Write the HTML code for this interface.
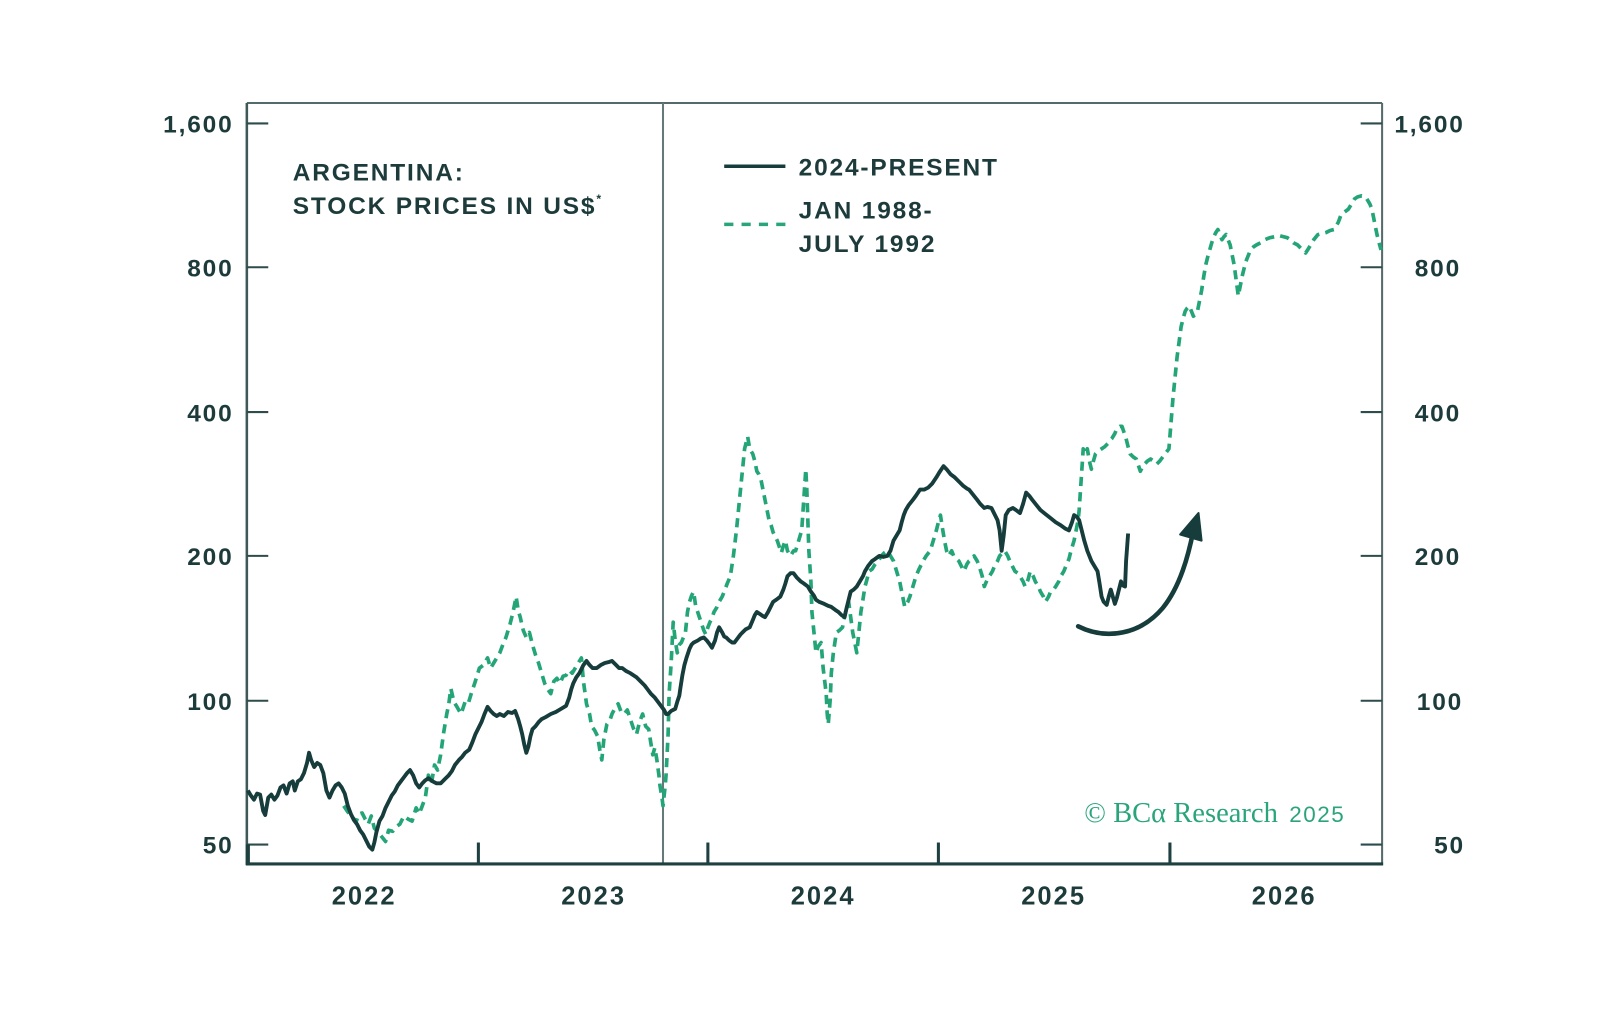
<!DOCTYPE html>
<html><head><meta charset="utf-8"><style>
html,body{margin:0;padding:0;background:#fff;}
svg{display:block;}
.tk{font-family:"Liberation Sans",sans-serif;font-weight:bold;font-size:24px;letter-spacing:1.8px;fill:#1d3b3b;}
.yr{font-family:"Liberation Sans",sans-serif;font-weight:bold;font-size:25px;letter-spacing:2px;fill:#1d3b3b;}
.ti{font-family:"Liberation Sans",sans-serif;font-weight:bold;font-size:24px;letter-spacing:1.8px;fill:#1d3b3b;}
.cp{font-family:"Liberation Serif",serif;font-size:28px;fill:#2aa57b;}
.cp2{font-family:"Liberation Sans",sans-serif;font-size:22px;letter-spacing:1.5px;fill:#2aa57b;}
</style></head><body>
<svg width="1600" height="1014" viewBox="0 0 1600 1014" xmlns="http://www.w3.org/2000/svg">
<rect width="1600" height="1014" fill="#fff"/>
<g transform="scale(1.02)">
<!-- frame -->
<line x1="242" y1="101" x2="1355" y2="101" stroke="#556a6a" stroke-width="2"/>
<line x1="242" y1="101" x2="242" y2="848" stroke="#3f5858" stroke-width="2.5"/>
<line x1="1355" y1="101" x2="1355" y2="848" stroke="#556a6a" stroke-width="2"/>
<line x1="650" y1="101" x2="650" y2="848" stroke="#66797a" stroke-width="2"/>
<line x1="241" y1="847" x2="1356" y2="847" stroke="#1e4040" stroke-width="3"/>
<!-- y ticks -->
<g stroke="#2e4c4c" stroke-width="2">
<line x1="242" y1="121" x2="263" y2="121"/><line x1="1334" y1="121" x2="1355" y2="121"/>
<line x1="242" y1="262" x2="263" y2="262"/><line x1="1334" y1="262" x2="1355" y2="262"/>
<line x1="242" y1="404" x2="263" y2="404"/><line x1="1334" y1="404" x2="1355" y2="404"/>
<line x1="242" y1="545" x2="263" y2="545"/><line x1="1334" y1="545" x2="1355" y2="545"/>
<line x1="242" y1="687" x2="263" y2="687"/><line x1="1334" y1="687" x2="1355" y2="687"/>
<line x1="242" y1="828" x2="263" y2="828"/><line x1="1334" y1="828" x2="1355" y2="828"/>
</g>
<line x1="243" y1="828" x2="243" y2="847" stroke="#1e4040" stroke-width="4"/>
<g stroke="#1e4040" stroke-width="3">
<line x1="469" y1="826" x2="469" y2="847"/>
<line x1="694" y1="826" x2="694" y2="847"/>
<line x1="920" y1="826" x2="920" y2="847"/>
<line x1="1147" y1="826" x2="1147" y2="847"/>
</g>
<!-- y labels -->
<text class="tk" x="229" y="130" text-anchor="end">1,600</text>
<text class="tk" x="229" y="271" text-anchor="end">800</text>
<text class="tk" x="229" y="413" text-anchor="end">400</text>
<text class="tk" x="229" y="554" text-anchor="end">200</text>
<text class="tk" x="229" y="696" text-anchor="end">100</text>
<text class="tk" x="229" y="837" text-anchor="end">50</text>
<text class="tk" x="1367" y="130">1,600</text>
<text class="tk" x="1387" y="271">800</text>
<text class="tk" x="1387" y="413">400</text>
<text class="tk" x="1387" y="554">200</text>
<text class="tk" x="1389" y="696">100</text>
<text class="tk" x="1406" y="837">50</text>
<text class="yr" x="357" y="887" text-anchor="middle">2022</text>
<text class="yr" x="582" y="887" text-anchor="middle">2023</text>
<text class="yr" x="807" y="887" text-anchor="middle">2024</text>
<text class="yr" x="1033" y="887" text-anchor="middle">2025</text>
<text class="yr" x="1259" y="887" text-anchor="middle">2026</text>
<!-- title -->
<text class="ti" x="287" y="177">ARGENTINA:</text>
<text class="ti" x="287" y="210">STOCK PRICES IN US$<tspan font-size="12" dy="-11">*</tspan></text>
<!-- legend -->
<line x1="710" y1="163" x2="770" y2="163" stroke="#163c3c" stroke-width="3.5"/>
<line x1="710" y1="220" x2="770" y2="220" stroke="#2aa57b" stroke-width="3.5" stroke-dasharray="9,8"/>
<text class="ti" x="783" y="172">2024-PRESENT</text>
<text class="ti" x="783" y="214">JAN 1988-</text>
<text class="ti" x="783" y="247">JULY 1992</text>
<!-- green dashed series -->
<polyline fill="none" stroke="#23a577" stroke-width="3.6" stroke-dasharray="9,6" stroke-linejoin="round" points="
337,790 341,796 345,800 349,806 352,798 355,797 358,803 361,808 364,800 367,812 370,815 374,820 378,825 381,814 385,815 389,810 392,808 396,800 400,803 404,805 408,792 411,798 414,790 417,782 420,760 423,768 426,750 429,755 432,740 435,718 438,700 440,690 442,675 445,688 448,693 452,700 456,688 459,690 462,680 466,668 470,655 474,652 478,645 481,655 484,650 487,645 490,640 493,632 496,625 500,612 503,600 505,590 506,585 508,598 510,605 513,618 516,625 519,620 522,632 525,642 528,650 531,660 534,670 537,676 540,680 543,668 546,665 549,670 552,663 555,662 558,657 561,660 564,655 567,650 570,645 572,668 575,690 578,700 580,712 583,716 586,722 588,735 590,745 592,725 595,710 598,706 600,700 603,694 606,690 609,698 612,700 615,696 618,705 621,714 624,720 627,708 630,700 633,712 636,715 638,728 640,740 642,733 644,745 646,760 647,770 649,782 650,790 652,772 653,760 655,720 656,680 658,650 660,610 662,628 664,640 666,632 668,630 670,625 672,620 674,600 676,590 678,584 680,580 682,594 684,600 686,606 688,612 690,618 692,622 694,615 696,610 698,606 700,600 703,595 705,590 708,585 710,580 713,572 716,565 719,545 722,520 724,500 726,480 728,460 730,440 732,432 733,428 735,440 738,445 740,452 742,462 744,465 746,470 748,480 750,490 752,500 754,510 756,515 758,522 760,526 762,530 764,536 766,542 768,535 770,530 772,540 775,545 778,540 780,540 783,530 786,520 788,490 790,460 791,480 793,540 795,570 796,600 798,620 800,640 802,634 805,630 807,655 810,680 811,700 812,710 814,685 815,660 817,640 820,620 823,618 826,615 829,600 832,590 834,605 836,620 838,630 840,640 842,620 844,600 846,588 848,575 850,568 852,560 855,558 858,553 861,550 864,545 867,542 870,540 873,545 876,550 879,560 882,570 885,585 887,595 890,590 892,585 895,575 898,565 901,558 905,550 908,545 912,540 915,530 918,520 920,512 922,505 924,518 926,530 928,540 930,545 933,540 935,545 938,548 940,550 943,556 945,560 948,553 950,550 953,548 955,545 958,550 960,555 963,565 965,575 968,568 970,565 973,560 975,555 978,550 980,545 983,542 985,540 988,545 990,550 993,556 995,560 998,562 1000,565 1003,570 1005,575 1008,568 1010,560 1013,565 1015,570 1018,575 1020,580 1023,585 1025,590 1028,585 1030,580 1033,578 1035,575 1038,570 1040,565 1043,560 1045,555 1048,548 1050,540 1053,530 1055,520 1057,510 1058,500 1059,485 1060,470 1061,455 1062,440 1064,445 1066,440 1068,452 1070,460 1072,452 1074,445 1077,442 1080,440 1083,438 1086,435 1088,432 1090,430 1093,425 1095,420 1098,418 1100,418 1102,424 1104,430 1106,438 1108,445 1111,448 1114,450 1116,456 1118,462 1120,458 1122,455 1125,452 1128,450 1131,452 1134,455 1137,452 1140,448 1143,444 1146,440 1148,415 1150,390 1152,370 1154,350 1156,335 1158,320 1160,312 1162,305 1164,302 1166,300 1168,305 1170,310 1172,308 1174,305 1176,295 1178,285 1180,272 1182,260 1184,252 1186,245 1188,238 1190,232 1192,228 1194,225 1196,230 1198,235 1200,232 1202,230 1204,235 1206,240 1208,250 1210,260 1212,275 1214,290 1216,280 1218,270 1220,262 1222,255 1224,250 1226,245 1229,242 1232,240 1236,238 1240,235 1245,233 1250,232 1254,231 1258,232 1262,233 1265,235 1268,238 1272,240 1276,244 1280,248 1282,245 1285,240 1288,235 1292,230 1296,229 1300,228 1304,226 1308,225 1312,218 1315,210 1318,208 1322,205 1325,200 1328,195 1331,193 1335,192 1338,193 1340,195 1343,200 1345,205 1347,215 1350,230 1352,238 1354,245"/>
<!-- dark solid series -->
<polyline fill="none" stroke="#163c3c" stroke-width="3.8" stroke-linejoin="round" points="
243,775 246,780 249,784 252,778 255,779 258,795 260,799 263,782 266,779 269,784 272,780 275,772 278,770 281,778 284,768 287,766 289,775 292,766 295,764 298,758 301,748 303,738 305,745 308,752 311,748 314,750 317,758 320,775 323,782 326,775 329,770 332,768 335,772 338,778 341,790 344,798 347,804 350,808 353,814 356,818 359,824 362,830 365,833 367,826 369,816 372,805 375,800 378,792 381,786 384,780 387,776 390,770 393,766 396,762 399,758 402,755 405,760 408,768 411,772 414,768 417,765 420,763 424,766 428,768 432,768 436,764 440,760 443,756 446,750 450,745 453,742 456,738 460,735 463,728 466,720 469,714 472,708 475,700 478,693 481,697 484,700 487,702 490,700 494,702 498,698 502,699 505,697 508,705 510,712 512,720 514,730 516,738 518,732 520,722 522,715 525,712 528,708 531,705 535,703 540,700 545,698 550,695 555,692 558,684 560,676 562,670 565,664 568,660 572,652 575,648 578,652 581,655 585,655 589,652 593,650 597,649 600,648 604,652 607,655 610,655 614,658 618,660 621,662 624,664 628,668 632,672 635,676 638,680 642,684 645,688 648,692 651,696 653,700 655,700 658,697 660,696 662,695 664,688 666,682 667,675 669,662 671,652 673,645 676,636 678,632 680,630 684,628 687,626 690,625 693,628 696,632 698,635 701,628 703,620 705,615 708,620 710,624 712,625 715,628 718,630 720,630 723,626 726,622 728,620 731,617 735,615 738,608 740,603 742,600 745,602 748,604 750,605 753,600 756,594 758,590 761,588 765,585 768,578 770,572 772,565 775,562 778,562 781,566 785,570 788,572 792,575 795,580 798,584 800,588 803,590 808,592 812,594 815,595 819,598 822,600 825,603 828,605 830,596 832,588 834,580 837,578 840,575 843,570 846,565 848,560 851,555 855,550 858,548 862,545 866,546 870,545 873,540 876,530 879,525 882,520 884,512 886,505 888,500 891,495 895,490 898,486 902,480 906,480 910,478 914,474 918,468 921,463 923,460 925,457 928,460 932,465 936,468 940,472 944,476 948,479 950,480 954,485 958,490 961,494 965,498 968,497 972,498 975,504 978,510 980,520 982,540 984,525 986,505 989,500 993,498 996,500 1000,503 1003,494 1006,483 1009,486 1012,490 1016,495 1020,500 1025,504 1030,508 1035,512 1040,515 1044,518 1048,520 1051,512 1053,505 1056,507 1058,510 1060,518 1063,530 1066,540 1070,550 1073,555 1076,560 1078,572 1080,585 1082,590 1085,593 1087,585 1089,578 1091,585 1093,592 1095,586 1097,578 1099,570 1101,574 1103,575 1104,550 1106,523"/>
<!-- arrow -->
<path d="M1057,614 C1085,628 1118,622 1140,596 C1157,575 1165,545 1170,520" fill="none" stroke="#163c3c" stroke-width="4.5" stroke-linecap="round"/>
<path d="M1157,524 L1175,503 L1178,530 Z" fill="#163c3c" stroke="#163c3c" stroke-width="2" stroke-linejoin="round"/>
<!-- copyright -->
<text class="cp" x="1063" y="806">© BCα Research</text>
<text class="cp2" x="1264" y="806">2025</text>
</g>
</svg>
</body></html>
